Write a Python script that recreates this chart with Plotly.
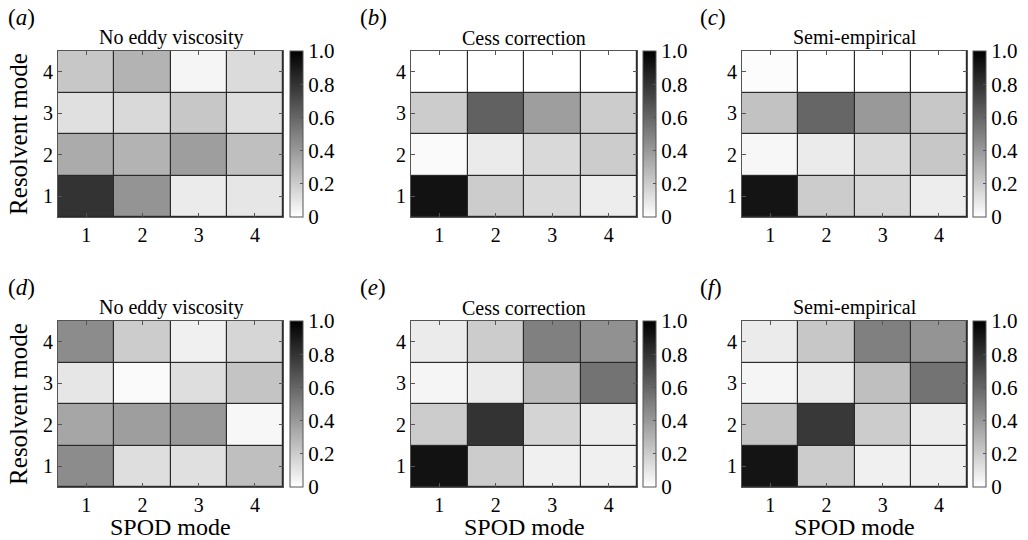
import plotly.graph_objects as go

spod_modes = [1, 2, 3, 4]
resolvent_modes = [1, 2, 3, 4]
tick_labels = ["1", "2", "3", "4"]
cbar_vals = [0, 0.2, 0.4, 0.6, 0.8, 1.0]
cbar_text = ["0", "0.2", "0.4", "0.6", "0.8", "1.0"]

# rows = resolvent mode 1..4 (bottom to top), columns = SPOD mode 1..4
panel_a = [[0.80, 0.42, 0.08, 0.10],
           [0.33, 0.30, 0.38, 0.25],
           [0.12, 0.15, 0.22, 0.13],
           [0.22, 0.30, 0.04, 0.14]]
panel_b = [[0.93, 0.20, 0.15, 0.07],
           [0.02, 0.08, 0.15, 0.20],
           [0.20, 0.62, 0.38, 0.20],
           [0.00, 0.00, 0.00, 0.00]]
panel_c = [[0.92, 0.20, 0.16, 0.07],
           [0.03, 0.08, 0.15, 0.22],
           [0.24, 0.60, 0.40, 0.22],
           [0.01, 0.00, 0.00, 0.00]]
panel_d = [[0.45, 0.13, 0.12, 0.25],
           [0.35, 0.38, 0.40, 0.03],
           [0.10, 0.02, 0.13, 0.23],
           [0.45, 0.20, 0.06, 0.16]]
panel_e = [[0.93, 0.20, 0.06, 0.06],
           [0.20, 0.80, 0.17, 0.07],
           [0.04, 0.08, 0.27, 0.55],
           [0.08, 0.20, 0.50, 0.43]]
panel_f = [[0.92, 0.20, 0.06, 0.06],
           [0.23, 0.78, 0.20, 0.07],
           [0.04, 0.08, 0.25, 0.55],
           [0.08, 0.22, 0.50, 0.42]]

panels = [panel_a, panel_b, panel_c, panel_d, panel_e, panel_f]
titles = ["No eddy viscosity", "Cess correction", "Semi-empirical"] * 2
letters = ["a", "b", "c", "d", "e", "f"]

W, H = 1028, 540
FONT = "Liberation Serif, Times New Roman, serif"
x_px = [(58, 283), (411, 637), (742, 967)]
cb_px = [290, 643, 973]
lab_px = [6, 358, 698]
y_px = [(51, 217), (321, 487)]
lab_y = [3, 273]

gray = [[0, "rgb(255,255,255)"], [1, "rgb(0,0,0)"]]

fig = go.Figure()
layout = dict(width=W, height=H, margin=dict(l=0, r=0, t=0, b=0),
              paper_bgcolor="white", plot_bgcolor="#2a2a2a",
              font=dict(family=FONT, color="black"),
              showlegend=False, annotations=[])

for i, z in enumerate(panels):
    r, c = divmod(i, 3)
    n = i + 1
    xs = "" if n == 1 else str(n)
    x0, x1 = x_px[c]
    y0, y1 = y_px[r]
    ydom = [1 - y1 / H, 1 - y0 / H]
    fig.add_trace(go.Heatmap(
        z=z, x=spod_modes, y=resolvent_modes, zmin=0, zmax=1,
        colorscale=gray, xgap=1.2, ygap=1.2, hoverinfo="skip",
        xaxis="x" + xs, yaxis="y" + xs,
        colorbar=dict(x=cb_px[c] / W, xanchor="left", xref="paper",
                      y=(ydom[0] + ydom[1]) / 2, yanchor="middle",
                      len=ydom[1] - ydom[0], lenmode="fraction",
                      thickness=13, outlinewidth=1, outlinecolor="#555",
                      tickvals=cbar_vals, ticktext=cbar_text,
                      ticks="inside", ticklen=3, tickcolor="#555",
                      tickfont=dict(family=FONT, size=21, color="black"),
                      ypad=0, xpad=0),
    ))
    ax = dict(domain=[x0 / W, x1 / W], range=[0.5, 4.5],
              tickvals=spod_modes, ticktext=tick_labels,
              ticks="inside", ticklen=4, tickcolor="#555",
              showline=True, linecolor="#555", linewidth=1, mirror="ticks",
              showgrid=False, zeroline=False, fixedrange=True,
              tickfont=dict(family=FONT, size=20), anchor="y" + xs)
    ay = dict(domain=ydom, range=[0.5, 4.5],
              tickvals=resolvent_modes, ticktext=tick_labels,
              ticks="inside", ticklen=4, tickcolor="#555",
              showline=True, linecolor="#555", linewidth=1, mirror="ticks",
              showgrid=False, zeroline=False, fixedrange=True,
              tickfont=dict(family=FONT, size=20), anchor="x" + xs)
    if c == 0:
        ay["title"] = dict(text="Resolvent mode", font=dict(family=FONT, size=25), standoff=8)
    layout["xaxis" + xs] = ax
    layout["yaxis" + xs] = ay
    if r == 1:
        layout["annotations"].append(dict(
            text="SPOD mode", xref="x" + xs + " domain", yref="paper",
            x=0.5, y=0, xanchor="center", yanchor="bottom", showarrow=False,
            yshift=-2, font=dict(family=FONT, size=24)))
    layout["annotations"].append(dict(
        text=titles[i], xref="x" + xs + " domain", yref="y" + xs + " domain",
        x=0.5, y=1, xanchor="center", yanchor="bottom", showarrow=False,
        yshift=0, font=dict(family=FONT, size=20)))
    layout["annotations"].append(dict(
        text="(<i>" + letters[i] + "</i>)", xref="paper", yref="paper",
        x=lab_px[c] / W, y=1 - lab_y[r] / H, xanchor="left", yanchor="top",
        showarrow=False, font=dict(family=FONT, size=23)))

fig.update_layout(**layout)
fig.write_html("out.html", config={"displayModeBar": False},
               post_script="document.body.style.margin='0px';")
